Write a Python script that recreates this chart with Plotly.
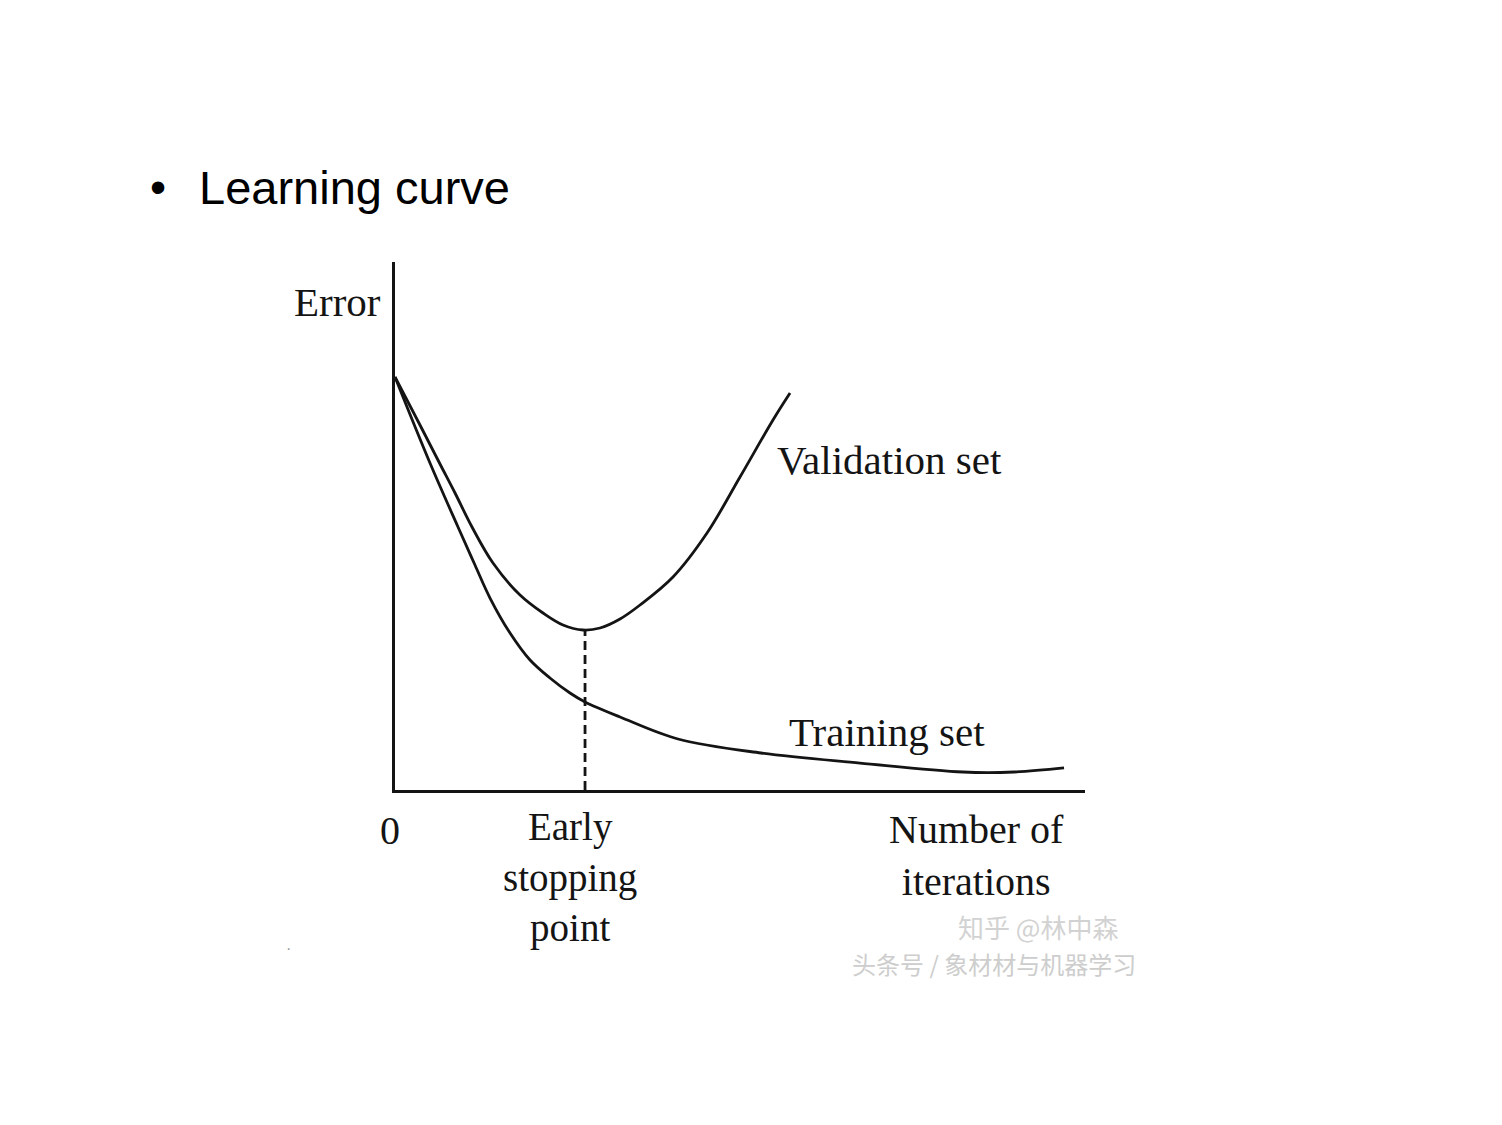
import plotly.graph_objects as go

# ---- data ----
val_x = [0, 3.62, 6.52, 8.70, 11.16, 14.20, 18.12, 21.45, 24.35, 27.25, 29.71, 32.61, 35.51, 40.29, 45.22, 50.0, 54.78, 57.25]
val_y = [78.22, 69.13, 61.74, 56.25, 49.81, 42.99, 36.93, 33.52, 31.25, 30.30, 30.68, 32.39, 35.04, 40.34, 48.67, 59.28, 70.08, 75.19]

train_x = [0, 5.07, 9.13, 11.59, 13.77, 16.67, 19.57, 22.46, 25.36, 27.54, 32.61, 41.01, 53.04, 67.39, 82.32, 89.71, 96.96]
train_y = [78.22, 61.93, 49.81, 42.61, 36.36, 29.73, 24.62, 21.21, 18.37, 16.67, 13.83, 9.66, 7.01, 5.11, 3.41, 3.41, 4.17]

stop_x = [27.54, 27.54]
stop_y = [0, 30.3]

title_text = "Learning curve"
y_label = "Error"
x_label = "Number of<br>iterations"
stop_label = "Early<br>stopping<br>point"
origin_label = "0"
val_label = "Validation set"
train_label = "Training set"
wm_line1 = "知乎 @林中森"
wm_line2 = "头条号 / 象材材与机器学习"

W, H = 1502, 1125
ink = "#141414"
serif = "Liberation Serif, Times New Roman, serif"
sans = "Liberation Sans, Arial, Helvetica, sans-serif"
cjk = "Noto Sans CJK SC"

fig = go.Figure()
fig.add_trace(go.Scatter(x=val_x, y=val_y, mode="lines",
                         line=dict(color=ink, width=2.8, shape="spline", smoothing=1.0), hoverinfo="skip"))
fig.add_trace(go.Scatter(x=train_x, y=train_y, mode="lines",
                         line=dict(color=ink, width=2.8, shape="spline", smoothing=1.0), hoverinfo="skip"))
fig.add_trace(go.Scatter(x=stop_x, y=stop_y, mode="lines",
                         line=dict(color=ink, width=2.8, dash="9px,5px"), hoverinfo="skip"))


def ann(text, x, y, xa="center", ya="middle", size=40, color=ink, family=serif, xref="paper", yref="paper"):
    fig.add_annotation(text=text, x=x, y=y, xref=xref, yref=yref, xanchor=xa, yanchor=ya,
                       showarrow=False, font=dict(family=family, size=size, color=color), align="center")


def px(xp, yp):
    return xp / W, 1 - yp / H


# labels inside the plot area (data coordinates)
ann(val_label, 55.1, 62.5, xa="left", size=41, xref="x", yref="y")
ann(train_label, 56.8, 11.0, xa="left", size=41, xref="x", yref="y")

# labels outside the plot area (paper coordinates)
ann(y_label, *px(383, 302), xa="right", size=41)
ann(origin_label, *px(390, 830), size=40)
ann(stop_label, *px(570, 877), size=39)
ann(x_label, *px(976, 855), size=40)

ann("•", *px(158, 187), size=46, color="#000", family=sans)
ann(title_text, *px(197, 187), xa="left", size=47, color="#000", family=sans)

ann(wm_line1, *px(1038, 926), size=26, color="#d2d2d2", family=cjk)
ann(wm_line2, *px(994, 963), size=24, color="#cdcdcd", family=cjk)
ann("·", *px(288, 948), size=16, color="#999999", family=sans)

fig.update_layout(
    width=W, height=H, margin=dict(l=0, r=0, t=0, b=0),
    paper_bgcolor="white", plot_bgcolor="white", showlegend=False,
    xaxis=dict(domain=[395 / W, 1085 / W], range=[0, 100], showline=True, linecolor=ink, linewidth=3,
               showgrid=False, zeroline=False, showticklabels=False, ticks=""),
    yaxis=dict(domain=[(H - 790) / H, (H - 262) / H], range=[0, 100], showline=True, linecolor=ink, linewidth=3,
               showgrid=False, zeroline=False, showticklabels=False, ticks=""),
)

fig.write_html("out.html")
